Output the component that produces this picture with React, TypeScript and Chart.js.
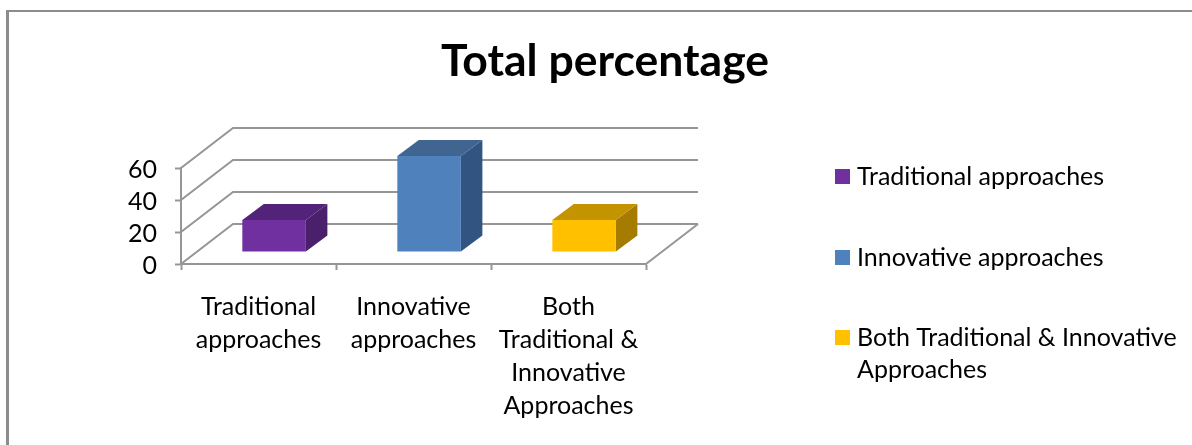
import React, { useEffect, useRef } from "react";
import { Chart, BarController, BarElement, registerables } from "chart.js";

const categories = [
  ["Traditional", "approaches"],
  ["Innovative", "approaches"],
  ["Both", "Traditional &", "Innovative", "Approaches"],
];
const totals = [20, 60, 20];
const legendLines = [
  ["Traditional approaches"],
  ["Innovative approaches"],
  ["Both Traditional & Innovative", "Approaches"],
];
const faceColours = ["#7030A0", "#4F81BD", "#FFC000"];
const topColours = ["#522379", "#3F6590", "#C49300"];
const sideColours = ["#4A1F6C", "#325480", "#A67C00"];
const chartTitle = "Total percentage";

const FONT = "Lato, Carlito, sans-serif";
const LINE = "#969696";
// Receding direction of the floor and of each box inside it.
const WALL = { dx: 52, dy: -40 };
const BOX_START = { dx: 15.6, dy: -12 };
const BOX_DEPTH = { dx: 21.5, dy: -16 };

// Bar element that paints a front face, a top face and a right face.
class BoxElement extends BarElement {
  static id = "box3d";
  draw(ctx: CanvasRenderingContext2D) {
    const { x, y, base, width } = (this as any).getProps(["x", "y", "base", "width"]);
    const i = (this as any).$context.dataIndex;
    const l = x - width / 2 + BOX_START.dx;
    const r = x + width / 2 + BOX_START.dx;
    const t = y + BOX_START.dy;
    const b = base + BOX_START.dy;
    const { dx, dy } = BOX_DEPTH;
    const poly = (fill: string, pts: number[][]) => {
      ctx.fillStyle = fill;
      ctx.beginPath();
      pts.forEach(([px, py], n) => (n ? ctx.lineTo(px, py) : ctx.moveTo(px, py)));
      ctx.closePath();
      ctx.fill();
    };
    ctx.save();
    poly(sideColours[i], [[r, t], [r + dx, t + dy], [r + dx, b + dy], [r, b]]);
    poly(topColours[i], [[l, t], [l + dx, t + dy], [r + dx, t + dy], [r, t]]);
    poly(faceColours[i], [[l, t], [r, t], [r, b], [l, b]]);
    ctx.restore();
  }
}

class Box3DController extends BarController {
  static id = "bar3d";
  static defaults = { ...(BarController as any).defaults, dataElementType: "box3d" };
  static overrides = (BarController as any).overrides;
}

Chart.register(...registerables, BoxElement as any, Box3DController as any);

// Back wall, side wall and floor of the 3D plot box.
const wallsPlugin = {
  id: "walls",
  beforeDatasetsDraw(chart: any) {
    const { ctx, scales, chartArea } = chart;
    const yScale = scales.y;
    const left = chartArea.left;
    const right = chartArea.right;
    ctx.save();
    ctx.strokeStyle = LINE;
    ctx.lineWidth = 2;
    ctx.beginPath();
    yScale.ticks.forEach((tick: any) => {
      const py = Math.round(yScale.getPixelForValue(tick.value));
      ctx.moveTo(left, py);
      ctx.lineTo(left + WALL.dx, py + WALL.dy);
      ctx.lineTo(right + WALL.dx, py + WALL.dy);
    });
    const floor = Math.round(yScale.getPixelForValue(0));
    ctx.moveTo(right, floor);
    ctx.lineTo(right + WALL.dx, floor + WALL.dy);
    ctx.stroke();
    ctx.restore();
  },
};

// Outer frame, visible on the top and left only.
const framePlugin = {
  id: "frame",
  beforeDraw(chart: any) {
    const { ctx, width, height } = chart;
    ctx.save();
    ctx.fillStyle = "#ffffff";
    ctx.fillRect(0, 0, width, height);
    ctx.fillStyle = "#8C8C8C";
    ctx.fillRect(6, 10, width - 6, 2);
    ctx.fillRect(6, 10, 3, height - 10);
    ctx.restore();
  },
};

// Legend drawn beside the plot, with wrapped entries.
const sideLegendPlugin = {
  id: "sideLegend",
  afterDraw(chart: any) {
    const { ctx } = chart;
    const rows = [176, 257, 337];
    ctx.save();
    ctx.font = `25px ${FONT}`;
    ctx.textBaseline = "middle";
    ctx.textAlign = "left";
    legendLines.forEach((lines, i) => {
      ctx.fillStyle = faceColours[i];
      ctx.fillRect(835, rows[i] - 7, 15, 15);
      ctx.fillStyle = "#000000";
      lines.forEach((text, n) => ctx.fillText(text, 857, rows[i] + 1 + n * 32));
    });
    ctx.restore();
  },
};

export default function App() {
  const ref = useRef<HTMLCanvasElement>(null);
  useEffect(() => {
    const chart = new Chart(ref.current!, {
      type: "bar3d" as any,
      data: {
        labels: categories as any,
        datasets: [
          {
            label: chartTitle,
            data: totals,
            backgroundColor: faceColours,
            barPercentage: 0.41,
            categoryPercentage: 1,
            clip: false as any,
          },
        ],
      },
      plugins: [framePlugin, wallsPlugin, sideLegendPlugin],
      options: {
        animation: false,
        responsive: false,
        layout: { padding: { left: 18, right: 0, top: 0, bottom: 0 } },
        plugins: {
          legend: { display: false },
          tooltip: { enabled: false },
          title: {
            display: true,
            text: chartTitle,
            color: "#000000",
            font: { family: FONT, size: 44.5, weight: "bold", lineHeight: 1.2 },
            padding: { top: 35, bottom: 79.6 },
          },
        },
        scales: {
          x: {
            type: "category",
            offset: true,
            grid: {
              offset: true,
              drawOnChartArea: false,
              drawTicks: true,
              tickLength: 6,
              tickWidth: 2,
              tickColor: LINE,
            },
            border: { color: LINE, width: 2 },
            ticks: {
              color: "#000000",
              font: { family: FONT, size: 25, lineHeight: 1.32 },
              maxRotation: 0,
              minRotation: 0,
              autoSkip: false,
              padding: 20,
            },
            afterFit(scale: any) {
              scale.height = 181;
            },
          },
          y: {
            type: "linear",
            min: 0,
            max: 60,
            position: "left",
            grid: {
              drawOnChartArea: false,
              drawTicks: true,
              tickLength: 6,
              tickWidth: 2,
              tickColor: LINE,
            },
            border: { color: LINE, width: 2 },
            ticks: {
              stepSize: 20,
              autoSkip: false,
              labelOffset: 2,
              color: "#000000",
              font: { family: FONT, size: 25 },
              padding: 18,
            },
            afterFit(scale: any) {
              scale.width = 163;
            },
          },
          // Empty axis that reserves the column holding the legend.
          legendColumn: {
            type: "linear",
            position: "right",
            grid: { display: false },
            border: { display: false },
            ticks: { display: false },
            afterFit(scale: any) {
              scale.width = 546;
            },
          },
        },
      } as any,
    });
    return () => chart.destroy();
  }, []);
  return (
    <div style={{ position: "absolute", left: 0, top: 0 }}>
      <canvas ref={ref} width={1192} height={445} style={{ display: "block" }} />
    </div>
  );
}
